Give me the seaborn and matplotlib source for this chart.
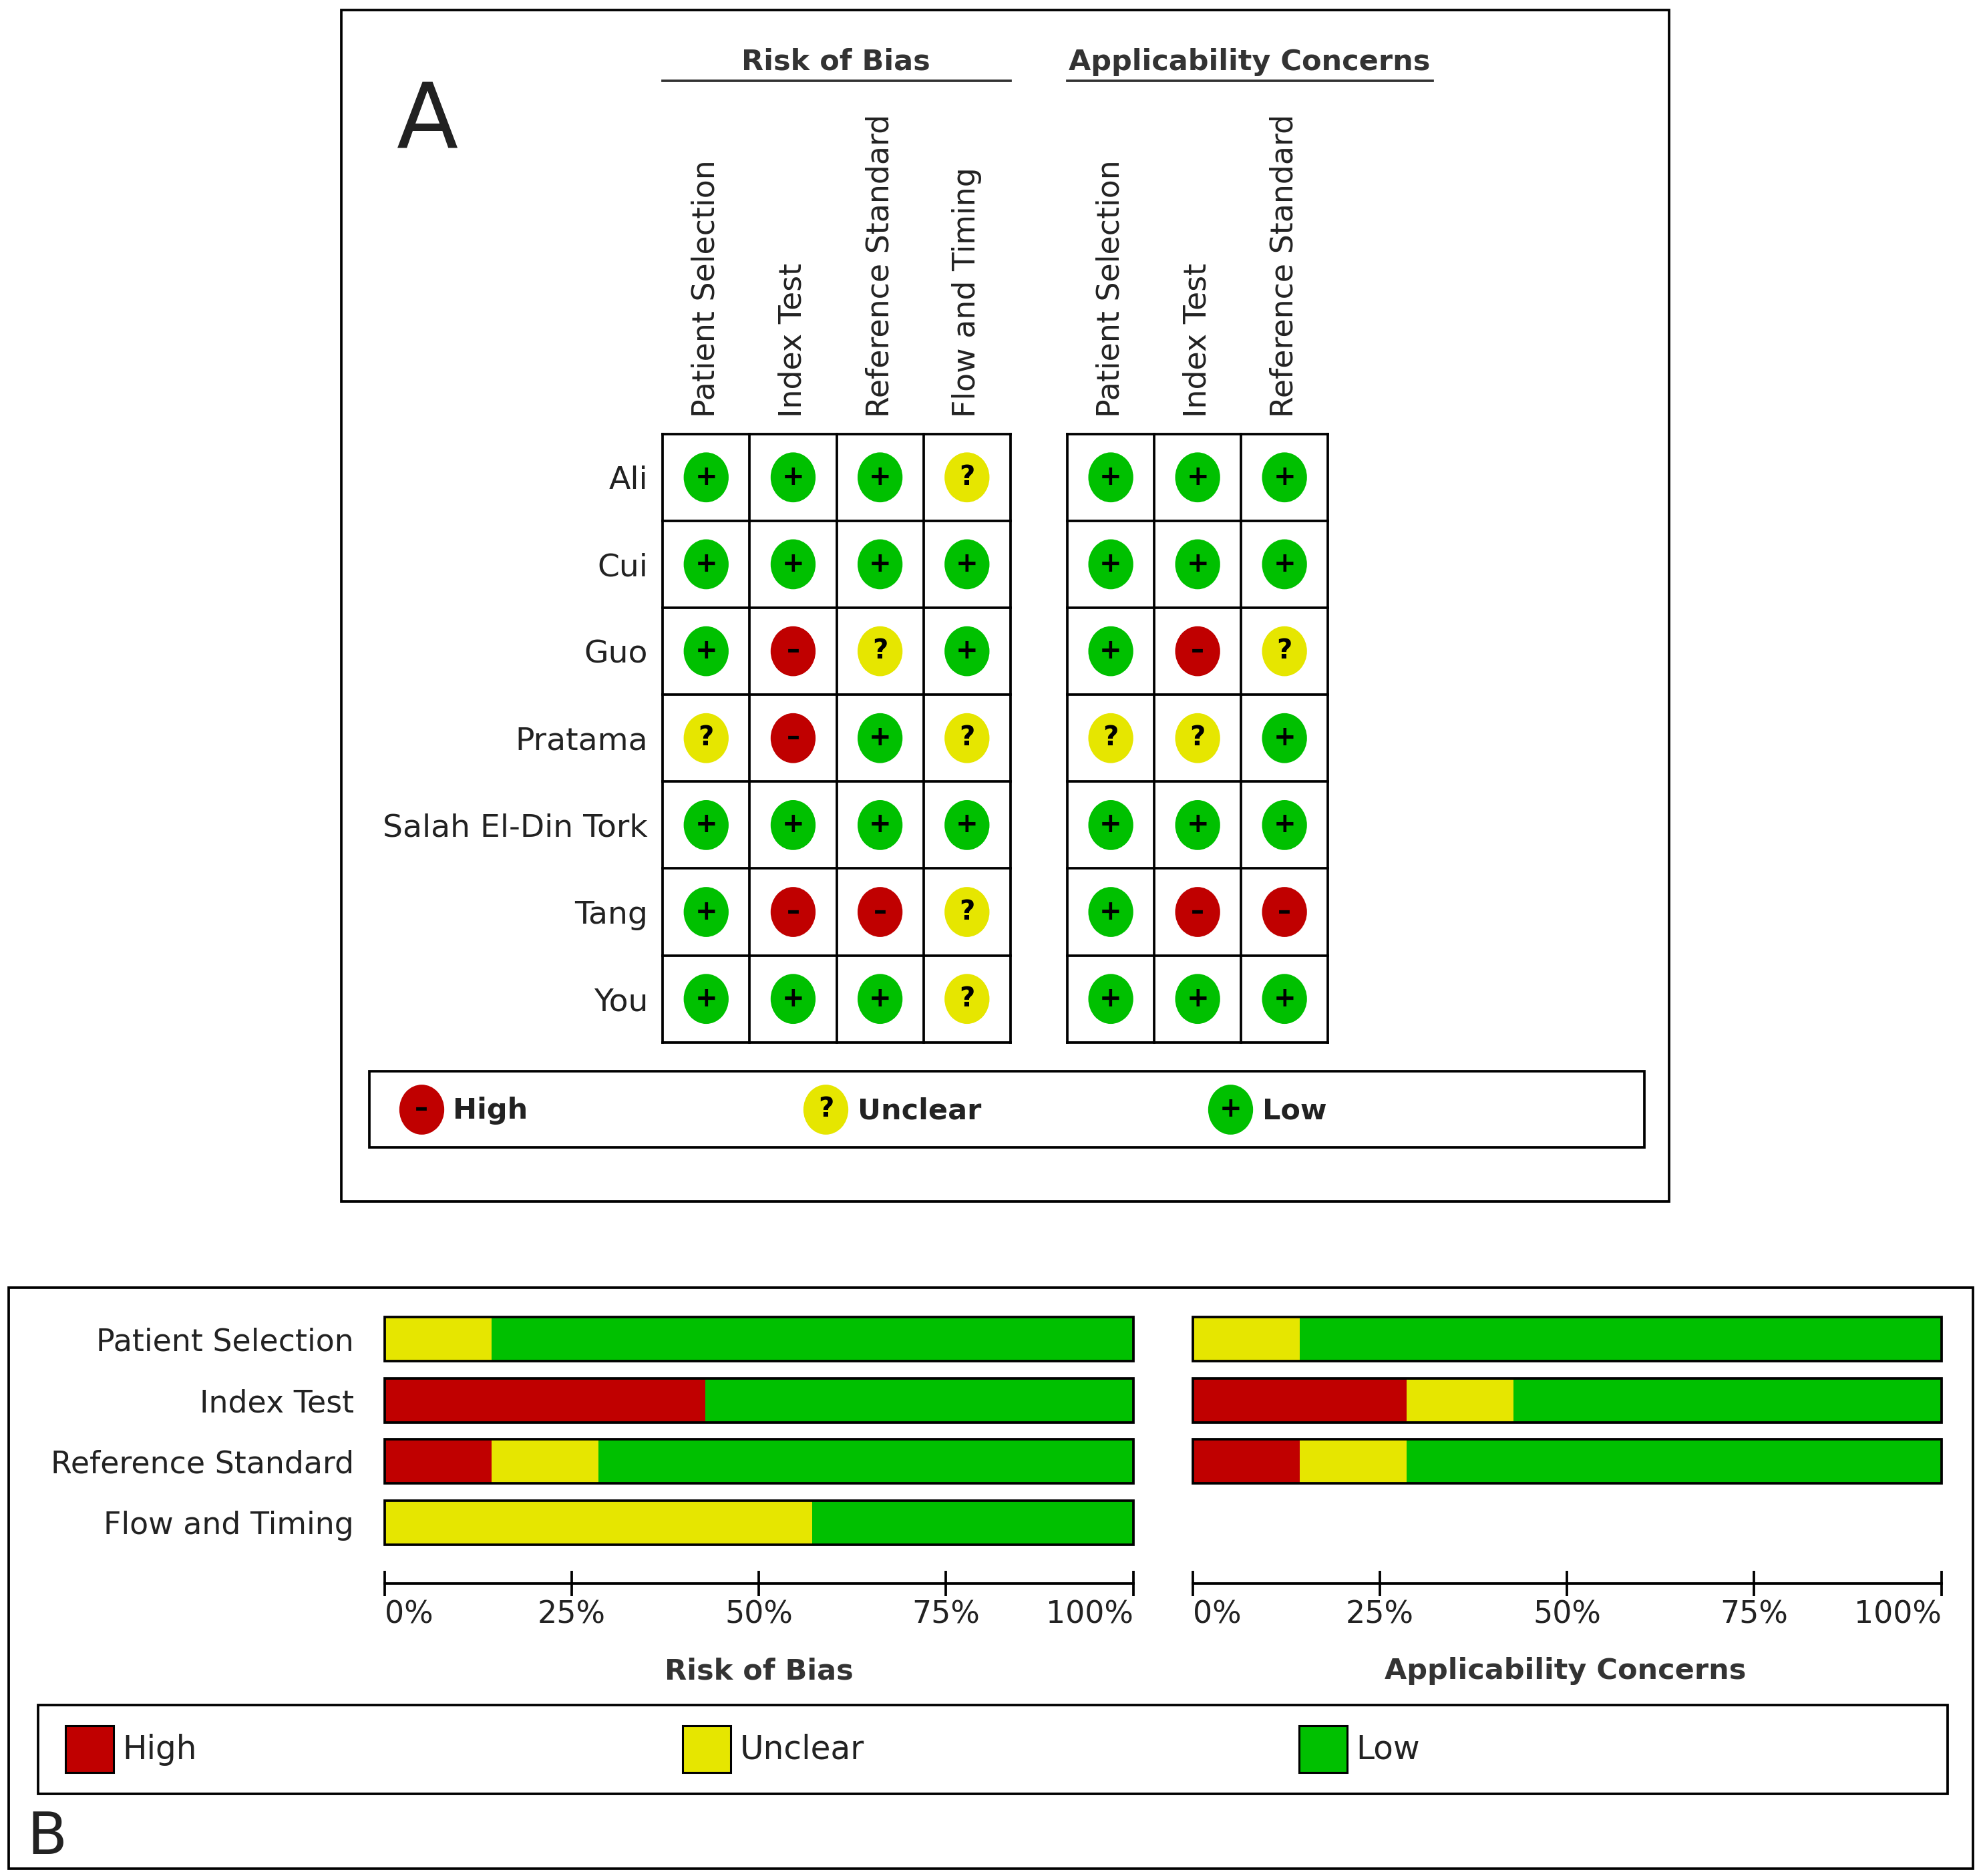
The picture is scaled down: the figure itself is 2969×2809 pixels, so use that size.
import matplotlib.pyplot as plt
from matplotlib.patches import Rectangle
from matplotlib.path import Path
from matplotlib.transforms import Affine2D
import numpy as np
import pandas as pd
import seaborn as sns

# ---- data -------------------------------------------------------------
studies = ["Ali", "Cui", "Guo", "Pratama", "Salah El-Din Tork", "Tang", "You"]
rob_domains = ["Patient Selection", "Index Test", "Reference Standard", "Flow and Timing"]
ac_domains = ["Patient Selection", "Index Test", "Reference Standard"]

rob_marks = [
    ["Low", "Low", "Low", "Unclear"],
    ["Low", "Low", "Low", "Low"],
    ["Low", "High", "Unclear", "Low"],
    ["Unclear", "High", "Low", "Unclear"],
    ["Low", "Low", "Low", "Low"],
    ["Low", "High", "High", "Unclear"],
    ["Low", "Low", "Low", "Unclear"],
]
ac_marks = [
    ["Low", "Low", "Low"],
    ["Low", "Low", "Low"],
    ["Low", "High", "Unclear"],
    ["Unclear", "Unclear", "Low"],
    ["Low", "Low", "Low"],
    ["Low", "High", "High"],
    ["Low", "Low", "Low"],
]

levels = ["High", "Unclear", "Low"]
palette = {"High": "#C00000", "Unclear": "#E6E600", "Low": "#00C000"}
symbols = {"High": "–", "Unclear": "?", "Low": "+"}
pct_ticks = [0, 25, 50, 75, 100]
pct_labels = ["0%", "25%", "50%", "75%", "100%"]

INK = "#222222"
LW = 2.7
DOT_SIZE = 2900
SYM_SIZE = 29

# layout grid in "reference units" (width x height of the reference, scaled down)
W, H = 1568, 1483


def box(l, t, r, b):
    return [l / W, 1 - b / H, (r - l) / W, (b - t) / H]


def long_table(marks, domains):
    df = pd.DataFrame(marks, index=studies, columns=domains)
    df = df.reset_index(names="study").melt(id_vars="study", var_name="domain",
                                            value_name="judgement")
    df["col"] = df["domain"].map({d: i for i, d in enumerate(domains)})
    df["row"] = df["study"].map({s: i for i, s in enumerate(studies)})
    return df


def summary(df, domains):
    tab = pd.crosstab(df["domain"], df["judgement"], normalize="index")
    tab = tab.reindex(index=domains, columns=levels, fill_value=0) * 100
    return pd.DataFrame({
        "domain": domains,
        "High": tab["High"].values,
        "HighUnclear": (tab["High"] + tab["Unclear"]).values,
        "All": tab.sum(axis=1).values,
    })


dot = Path.unit_circle().transformed(Affine2D().scale(0.9, 1.0))


def traffic(ax, df, domains, show_rows):
    sns.scatterplot(data=df, x="col", y="row", hue="judgement", palette=palette,
                    s=DOT_SIZE, marker=dot, linewidth=0, legend=False, ax=ax)
    for _, r in df.iterrows():
        ax.text(r["col"], r["row"], symbols[r["judgement"]], ha="center",
                va="center", fontsize=SYM_SIZE, fontweight="bold", color="black")
    n = len(domains)
    ax.set_xlim(-0.5, n - 0.5)
    ax.set_ylim(len(studies) - 0.5, -0.5)
    for x in np.arange(-0.5, n):
        ax.axvline(x, color="black", lw=LW, clip_on=False)
    for y in np.arange(-0.5, len(studies)):
        ax.axhline(y, color="black", lw=LW, clip_on=False)
    for s in ax.spines.values():
        s.set_visible(False)
    ax.xaxis.tick_top()
    ax.set_xticks(range(n), domains, rotation=90)
    ax.tick_params(axis="x", length=0, pad=18, labelsize=33, labelcolor=INK)
    if show_rows:
        ax.set_yticks(range(len(studies)), studies)
        ax.tick_params(axis="y", length=0, pad=16, labelsize=34, labelcolor=INK)
    else:
        ax.set_yticks([])
    ax.set_xlabel("")
    ax.set_ylabel("")
    ax.patch.set_alpha(0)


def bars(ax, summ, show_rows):
    order = list(summ["domain"])
    for col, colour in [("All", palette["Low"]), ("HighUnclear", palette["Unclear"]),
                        ("High", palette["High"])]:
        sns.barplot(data=summ, x=col, y="domain", order=order, color=colour,
                    saturation=1, width=0.72, errorbar=None, linewidth=0, ax=ax)
    sns.barplot(data=summ, x="All", y="domain", order=order, color="black",
                fill=False, width=0.72, errorbar=None, linewidth=2.7, ax=ax)
    for p in ax.patches:
        p.set_clip_on(False)
    ax.set_xlim(0, 100)
    ax.set_ylim(4.0, -0.5)
    for side in ["top", "left", "right"]:
        ax.spines[side].set_visible(False)
    ax.spines["bottom"].set_linewidth(LW)
    ax.set_xticks(pct_ticks, pct_labels)
    for lab, ha in zip(ax.get_xticklabels(), ["left", "center", "center", "center", "right"]):
        lab.set_ha(ha)
    ax.tick_params(axis="x", direction="inout", length=27, width=LW, pad=4,
                   labelsize=33, labelcolor=INK)
    if show_rows:
        ax.tick_params(axis="y", length=0, pad=33, labelsize=33, labelcolor=INK)
    else:
        ax.set_yticks([])
    ax.set_xlabel("")
    ax.set_ylabel("")
    ax.patch.set_alpha(0)


rob_df = long_table(rob_marks, rob_domains)
ac_df = long_table(ac_marks, ac_domains)

fig = plt.figure(figsize=(29.69, 28.09), dpi=100)
bg = fig.add_axes([0, 0, 1, 1])
bg.set_xlim(0, W)
bg.set_ylim(H, 0)
bg.axis("off")

# ---- panel A ------------------------------------------------------------
bg.add_patch(Rectangle((270, 8), 1050, 942, fill=False, lw=LW, ec="black"))
bg.text(338, 97, "A", fontsize=97, ha="center", va="center", color=INK)
bg.text(661, 49, "Risk of Bias", fontsize=31, fontweight="bold", ha="center",
        va="center", color="#333333")
bg.plot([524, 799], [64, 64], color="#333333", lw=LW)
bg.text(988, 49, "Applicability Concerns", fontsize=31, fontweight="bold",
        ha="center", va="center", color="#333333")
bg.plot([844, 1133], [64, 64], color="#333333", lw=LW)

ax_rob = fig.add_axes(box(524, 343, 799, 824))
traffic(ax_rob, rob_df, rob_domains, True)
ax_ac = fig.add_axes(box(844, 343, 1050, 824))
traffic(ax_ac, ac_df, ac_domains, False)

bg.add_patch(Rectangle((292, 847), 1008, 60, fill=False, lw=LW, ec="black"))
for lev, cx in zip(levels, [333, 653, 973]):
    bg.scatter([cx], [877], s=DOT_SIZE, marker=dot, color=palette[lev], linewidths=0, zorder=3)
    bg.text(cx, 877, symbols[lev], ha="center", va="center", fontsize=SYM_SIZE,
            fontweight="bold", color="black", zorder=4)
    bg.text(cx + 25, 878, lev, ha="left", va="center", fontsize=31,
            fontweight="bold", color=INK)

# ---- panel B ------------------------------------------------------------
bg.add_patch(Rectangle((7, 1018), 1553, 459, fill=False, lw=LW, ec="black"))

ax_rb = fig.add_axes(box(304, 1034.4, 896, 1252))
bars(ax_rb, summary(rob_df, rob_domains), True)
ax_ab = fig.add_axes(box(943, 1034.4, 1535, 1252))
bars(ax_ab, summary(ac_df, ac_domains), False)

bg.text(600, 1321, "Risk of Bias", fontsize=31, fontweight="bold", ha="center",
        va="center", color="#333333")
bg.text(1238, 1321, "Applicability Concerns", fontsize=31, fontweight="bold",
        ha="center", va="center", color="#333333")

bg.add_patch(Rectangle((30, 1348), 1510, 70, fill=False, lw=LW, ec="black"))
for lev, lx in zip(levels, [52, 540, 1027]):
    bg.add_patch(Rectangle((lx, 1364), 38, 37, fc=palette[lev], ec="black", lw=2.2))
    bg.text(lx + 45, 1383, lev, ha="left", va="center", fontsize=35, color=INK)

bg.text(37, 1453, "B", fontsize=63, ha="center", va="center", color=INK)

fig.savefig("out.png", dpi=100)
